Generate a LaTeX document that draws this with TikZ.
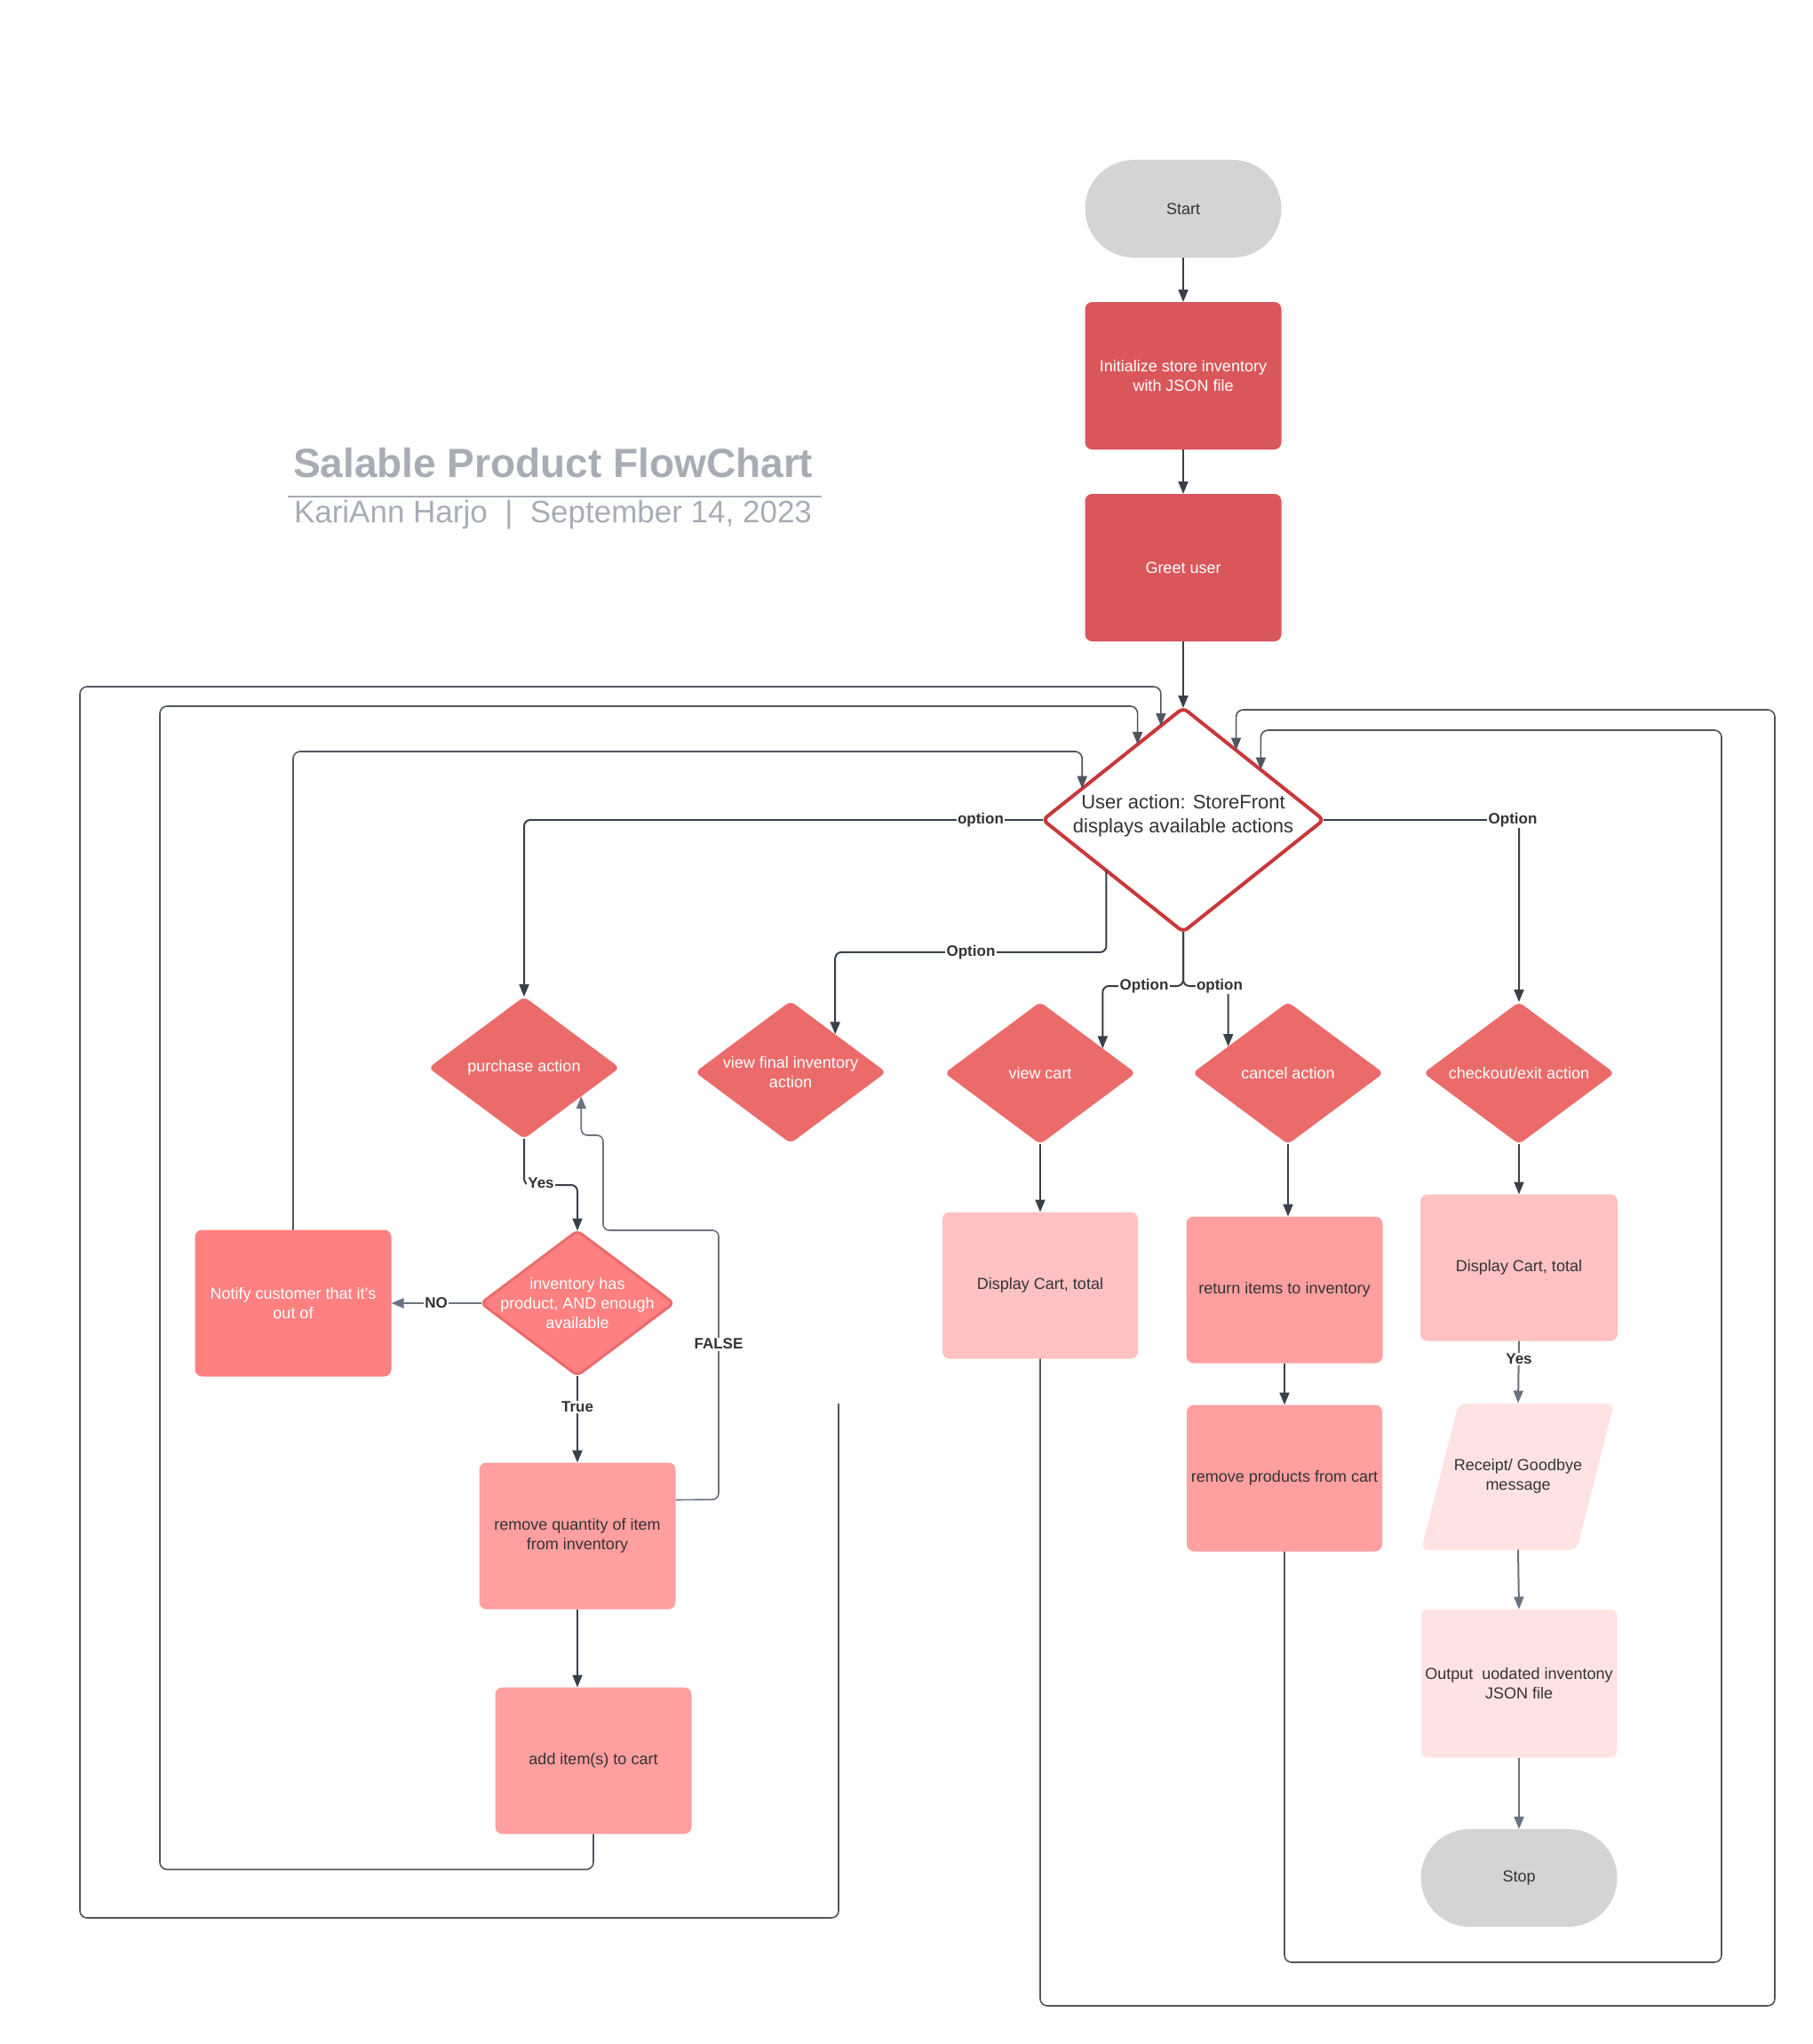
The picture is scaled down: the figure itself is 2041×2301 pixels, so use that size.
\documentclass[tikz,border=0pt]{standalone}
\usepackage{fontspec}
\setmainfont{Liberation Sans}
\usetikzlibrary{shapes.geometric,shapes.misc,arrows.meta,calc}
\definecolor{termgray}{HTML}{D3D4D6}
\definecolor{dred}{HTML}{D9575A}
\definecolor{actred}{HTML}{EB6B6B}
\definecolor{salmon}{HTML}{FF8080}
\definecolor{salmonb}{HTML}{E96B6B}
\definecolor{lsalmon}{HTML}{FF9F9F}
\definecolor{pinkc}{HTML}{FFC1C1}
\definecolor{lpink}{HTML}{FFE3E3}
\definecolor{mainb}{HTML}{C8383A}
\definecolor{txt}{HTML}{333333}
\definecolor{lnk}{HTML}{3A4049}
\definecolor{loopc}{HTML}{50565E}
\definecolor{grayc}{HTML}{6B7280}
\definecolor{titlec}{HTML}{A8ADB5}
\begin{document}
\begin{tikzpicture}[x=1pt,y=-1pt,
  every node/.style={font=\fontsize{18}{22}\selectfont, align=center, inner sep=0pt, outer sep=0pt},
  box/.style={rectangle, rounded corners=8pt, minimum width=221pt, minimum height=165pt, text=txt},
  dia/.style={diamond, rounded corners=6pt, minimum width=215pt, minimum height=160pt, fill=actred},
  term/.style={rounded rectangle, fill=termgray, minimum width=221pt, minimum height=110pt, text=txt},
  conn/.style={draw=lnk, line width=2pt, -{Triangle[width=11pt,length=14pt]}, rounded corners=7pt},
  loopln/.style={draw=loopc, line width=1.6pt, -{Triangle[width=11pt,length=14pt]}, rounded corners=8pt},
  gconn/.style={draw=grayc, line width=2pt, -{Triangle[width=11pt,length=14pt]}, rounded corners=7pt},
  lbl/.style={fill=white, font=\fontsize{17}{19}\selectfont\bfseries, text=txt, inner sep=1.5pt}
]
\useasboundingbox (0,0) rectangle (2041,2301);
\fill[white] (0,0) rectangle (2041,2301);

% title
\node[anchor=base west, font=\fontsize{46}{55}\selectfont\bfseries, text=titlec] (title) at (330,537) {Salable Product FlowChart};
\draw[titlec, line width=2.5pt] (324,559) -- (925,559);
\node[anchor=base west, font=\fontsize{35}{42}\selectfont, text=titlec] (sub) at (331,588) {KariAnn Harjo~~|~~September 14, 2023};

% top column
\node[term] (start) at (1332,235) {Start};
\node[box, fill=dred, text=white, minimum height=166pt] (init) at (1332,423) {Initialize store inventory\\with JSON file};
\node[box, fill=dred, text=white, minimum height=166pt] (greet) at (1332,639) {Greet user};
\node[diamond, rounded corners=6pt, minimum width=316pt, minimum height=252pt, fill=white, draw=mainb, line width=4pt,
  label={[text=txt, font=\fontsize{22}{27}\selectfont, yshift=5pt]center:{User action: StoreFront\\displays available actions}}] (main) at (1332,923) {};

% action diamonds
\node[dia, label={[text=white]center:{purchase action}}] (purchase) at (590,1202) {};
\node[dia, label={[text=white]center:{view final inventory\\action}}] (viewfinal) at (890,1207) {};
\node[dia, label={[text=white]center:{view cart}}] (viewcart) at (1171,1208) {};
\node[dia, label={[text=white]center:{cancel action}}] (cancel) at (1450,1208) {};
\node[dia, label={[text=white]center:{checkout/exit action}}] (checkout) at (1710,1208) {};

% purchase branch
\node[diamond, rounded corners=6pt, minimum width=217pt, minimum height=163pt, fill=salmon, draw=salmonb, line width=3pt,
  label={[text=white]center:{inventory has\\product, AND enough\\available}}] (inv) at (650,1467) {};
\node[box, fill=salmon, text=white] (notify) at (330,1467) {Notify customer that it's\\out of};
\node[box, fill=lsalmon] (removeq) at (650,1729) {remove quantity of item\\from inventory};
\node[box, fill=lsalmon] (additem) at (668,1982) {add item(s) to cart};

% right column boxes
\node[box, fill=pinkc, minimum width=220pt] (disp1) at (1171,1447) {Display Cart, total};
\node[box, fill=lsalmon] (retinv) at (1446,1452) {return items to inventory};
\node[box, fill=lsalmon, minimum width=220pt] (rmprod) at (1446,1664) {remove products from cart};
\node[box, fill=pinkc, minimum width=222pt] (disp2) at (1710,1427) {Display Cart, total};
\fill[lpink, rounded corners=8pt] (1600,1745) -- (1642,1580) -- (1817,1580) -- (1775,1745) -- cycle;
\node[minimum width=217pt, minimum height=165pt, text=txt] (receipt) at (1709,1662) {Receipt/ Goodbye\\message};
\node[box, fill=lpink, minimum height=167pt] (output) at (1710,1895) {Output~ uodated inventony\\JSON file};
\node[term] (stop) at (1710,2114) {Stop};

% entry points on diamonds
\coordinate (eA) at ($(main.north)!0.159!(main.west)$);
\coordinate (eB) at ($(main.north)!0.325!(main.west)$);
\coordinate (eN) at ($(main.north)!0.72!(main.west)$);
\coordinate (eR1) at ($(main.north)!0.377!(main.east)$);
\coordinate (eR2) at ($(main.north)!0.553!(main.east)$);
\coordinate (mle) at ($(main.west)!0.452!(main.south)$);
\coordinate (vfe) at ($(viewfinal.north)!0.467!(viewfinal.east)$);
\coordinate (vce) at ($(viewcart.north)!0.654!(viewcart.east)$);
\coordinate (cae) at ($(cancel.north)!0.626!(cancel.west)$);
\coordinate (pue) at ($(purchase.east)!0.402!(purchase.south)$);
\coordinate (oA) at (944,1580);

% main flow
\draw[conn] (start) -- (init);
\draw[conn] (init) -- (greet);
\draw[conn] (greet) -- (main);

\draw[conn] (main.west) -| (purchase.north);
\draw[conn] (mle) -- ++(0,92) -| (vfe);
\draw[conn] (main.south) -- ++(0,61) -| (vce);
\draw[conn] (main.south) -- ++(0,61) -| (cae);
\draw[conn] (main.east) -| (checkout.north);

\node[lbl] at (1104,923) {option};
\node[lbl] at (1093,1072) {Option};
\node[lbl] at (1288,1110) {Option};
\node[lbl] at (1373,1110) {option};
\node[lbl] at (1703,923) {Option};

% purchase branch
\draw[conn] (purchase.south) -- ++(0,52) -| (inv.north);
\node[lbl] at (609,1332) {Yes};
\draw[gconn] (inv.west) -- (notify.east);
\node[lbl] at (491,1467) {NO};
\draw[conn, line width=2.5pt] (inv.south) -- (removeq.north);
\node[lbl] at (650,1584) {True};
\draw[gconn, line width=1.6pt] ($(removeq.north east)+(0,42)$) -- (809,1688) -- (809,1385) -- (679,1385) -- (679,1278) -| (pue);
\node[lbl] at (809,1513) {FALSE};
\draw[conn] (removeq.south) -- (removeq.south |- additem.north);

% loops back to main
\draw[loopln] (additem.south) -- ++(0,40) -| (180,795) -| (eB);
\draw[loopln] (oA) -- (944,2159) -| (90,773) -| (eA);
\draw[loopln] (notify.north) -- (330,846) -| (eN);

% right branches
\draw[conn] (viewcart.south) -- (disp1.north);
\draw[loopln] (disp1.south) -- (1171,2258) -| (1998,799) -| (eR1);
\draw[conn] (cancel.south) -- (cancel.south |- retinv.north);
\draw[conn] (retinv.south) -- (rmprod.north);
\draw[loopln] (rmprod.south) -- (1446,2209) -| (1938,822) -| (eR2);
\draw[conn] (checkout.south) -- (disp2.north);
\draw[gconn] (disp2.south) -- (receipt.north);
\node[lbl] at (1710,1530) {Yes};
\draw[gconn] (receipt.south) -- (output.north);
\draw[gconn] (output.south) -- (stop.north);
\end{tikzpicture}
\end{document}
